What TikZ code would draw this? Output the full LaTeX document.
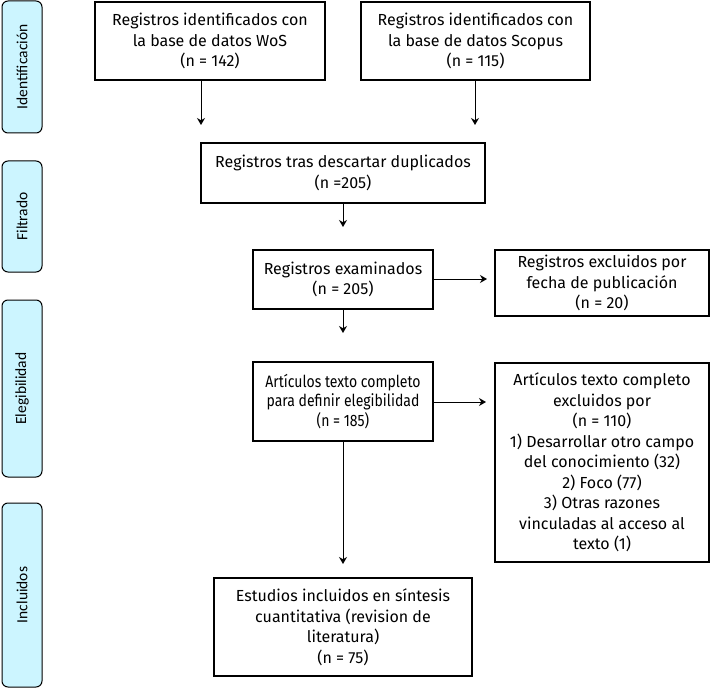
\documentclass[tikz,border=0pt]{standalone}
\usepackage{fontspec}
\setmainfont{Fira Sans}
\newfontfamily\sidefont{Carlito}
\newfontfamily\condfont[FakeStretch=0.85]{Fira Sans}
\usetikzlibrary{arrows.meta}
\definecolor{sidecyan}{HTML}{CCF5FF}
\begin{document}
\begin{tikzpicture}[x=1pt,y=-1pt,
  box/.style={draw, line width=1.3pt, align=center, inner sep=0pt,
    font=\fontsize{16}{20.5}\selectfont},
  condbox/.style={box, font=\condfont\fontsize{16.5}{19.5}\selectfont},
  side/.style={draw, line width=1pt, rounded corners=6pt, fill=sidecyan,
    rotate=90, minimum height=40pt, inner sep=0pt,
    font=\sidefont\fontsize{15.5}{18}\selectfont},
  arr/.style={-{Stealth[length=7pt,width=8pt]}, line width=1pt}]
\useasboundingbox (0,0) rectangle (710,690);

% side labels
\node[side, minimum width=132pt] (s1) at (22,67) {Identificación};
\node[side, minimum width=111pt] (s2) at (22,216.5) {Filtrado};
\node[side, minimum width=177pt] (s3) at (22,388.5) {Elegibilidad};
\node[side, minimum width=184pt] (s4) at (22,595) {Incluidos};

% boxes
\node[box, minimum width=230pt, minimum height=78pt] (wos) at (210,41)
  {Registros identificados con\\la base de datos WoS\\(n = 142)};
\node[box, minimum width=229pt, minimum height=78pt] (scopus) at (475.5,41)
  {Registros identificados con\\la base de datos Scopus\\(n = 115)};
\node[box, minimum width=284pt, minimum height=60pt] (dup) at (343,173)
  {Registros tras descartar duplicados\\(n =205)};
\node[box, minimum width=180pt, minimum height=59pt] (exam) at (343,279.5)
  {Registros examinados\\(n = 205)};
\node[box, minimum width=214pt, minimum height=66pt] (fecha) at (602,283)
  {Registros excluidos por\\fecha de publicación\\(n = 20)};
\node[condbox, minimum width=180pt, minimum height=79pt] (art) at (343,401.5)
  {Artículos texto completo\\para definir elegibilidad\\(n = 185)};
\node[box, minimum width=214pt, minimum height=199pt] (excl) at (602,462.5)
  {Artículos texto completo\\excluidos por\\(n = 110)\\1) Desarrollar otro campo\\del conocimiento (32)\\2) Foco (77)\\3) Otras razones\\vinculadas al acceso al\\texto (1)};
\node[box, minimum width=258pt, minimum height=98pt] (incl) at (343,627)
  {Estudios incluidos en síntesis\\cuantitativa (revision de\\literatura)\\(n = 75)};

% arrow ends
\coordinate (a1) at (201,125);
\coordinate (a2) at (475,125);
\coordinate (a3) at (343,227);
\coordinate (a4) at (487,279);
\coordinate (a5) at (343,333);
\coordinate (a6) at (486,402);
\coordinate (a7) at (343,564);

\draw[arr] (a1 |- wos.south) -- (a1);
\draw[arr] (a2 |- scopus.south) -- (a2);
\draw[arr] (dup.south) -- (a3);
\draw[arr] (exam.east |- a4) -- (a4);
\draw[arr] (exam.south) -- (a5);
\draw[arr] (art.east |- a6) -- (a6);
\draw[arr] (art.south) -- (a7);
\end{tikzpicture}
\end{document}
